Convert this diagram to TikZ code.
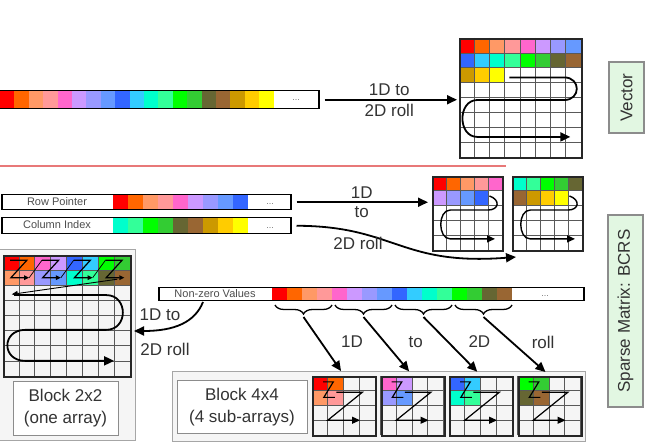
\documentclass[tikz,border=0pt]{standalone}
\usepackage{fontspec}
\setmainfont{Liberation Sans}
\usetikzlibrary{arrows.meta, decorations.pathreplacing}

\definecolor{col1}{HTML}{FF0000}
\definecolor{col2}{HTML}{FF6600}
\definecolor{col3}{HTML}{FF9966}
\definecolor{col4}{HTML}{FF9999}
\definecolor{col5}{HTML}{FF66CC}
\definecolor{col6}{HTML}{CC99FF}
\definecolor{col7}{HTML}{9999FF}
\definecolor{col8}{HTML}{6699FF}
\definecolor{col9}{HTML}{3366FF}
\definecolor{col10}{HTML}{33CCFF}
\definecolor{col11}{HTML}{00FFCC}
\definecolor{col12}{HTML}{33FF99}
\definecolor{col13}{HTML}{00FF00}
\definecolor{col14}{HTML}{33CC33}
\definecolor{col15}{HTML}{666633}
\definecolor{col16}{HTML}{996633}
\definecolor{col17}{HTML}{CC9900}
\definecolor{col18}{HTML}{FFCC00}
\definecolor{col19}{HTML}{FFFF00}
\definecolor{divider}{HTML}{E87878}
\definecolor{tagfill}{HTML}{E2F7E2}

\tikzset{
    strip/.style = {draw, line width = 1.5pt, inner sep = 0pt, anchor = north west},
    cellbox/.style = {draw = black!85, line width = 2pt, inner sep = 0pt, anchor = north west},
    gridline/.style = {black!65, line width = 0.6pt},
    roll/.style = {line width = 1.8pt, -{Triangle[length = 10pt, width = 9pt]}},
    curl/.style = {line width = 1.4pt, -{Triangle[length = 8pt, width = 7pt]}},
    zig/.style = {line width = 1.2pt},
    brace/.style = {decorate, decoration = {brace, mirror, amplitude = 9pt}, line width = 1.3pt},
    big/.style = {font = \fontsize{17}{22}\selectfont, text = black!80},
    small/.style = {font = \fontsize{11}{13}\selectfont, text = black!70},
    dots/.style = {font = \fontsize{9}{10}\selectfont, text = black!55},
    tag/.style = {draw = black!45, line width = 1.5pt, fill = tagfill, rotate = 90, inner sep = 0pt, big},
    panel/.style = {draw = black!35, line width = 1pt, fill = black!4},
    textbox/.style = {draw = black!45, line width = 1pt, fill = white, align = center, inner sep = 0pt, big},
}

% inner lines of a cell grid, in cell units
\newcommand{\gridlines}[2]{%
    \foreach \k in {0,...,#1} \draw[gridline] (\k, 0) -- (\k, #2);
    \foreach \k in {0,...,#2} \draw[gridline] (0, \k) -- (#1, \k);
}

\begin{document}
\begin{tikzpicture}[x = 1pt, y = -1pt]
    \useasboundingbox (0, 0) rectangle (664, 443);

    % vector
    \foreach \i in {1,...,19}
        \fill[fill = col\i] ({(\i-1)*14.4}, 90) rectangle ++(14.4, 18);
    \node[strip, minimum width = 320pt, minimum height = 18pt] (vec) at (-2, 90){};
    \node[dots] (vecdots) at (296, 100){...};

    \begin{scope}[shift = {(459, 38)}, x = 15.25pt, y = -14.875pt]
        \foreach \i in {1,...,19}
            \fill[fill = col\i] ({mod(\i-1, 8)}, {floor((\i-1)/8)}) rectangle ++(1, 1);
        \gridlines{8}{8}
        \draw[roll] (3.3, 2.65) -- (6.9, 2.65) .. controls (8, 2.65) and (8, 4.17) .. (6.9, 4.17)
            -- (1.2, 4.17) .. controls (-0.1, 4.17) and (-0.1, 6.65) .. (1.2, 6.65) -- (7.3, 6.65);
    \end{scope}
    \node[cellbox, minimum width = 122pt, minimum height = 119pt] (vgrid) at (459, 38){};

    \draw[roll, shorten <= 5pt, shorten >= 2pt] (vec.east) -- (vec.east -| vgrid.west)
        node[midway, above, big]{1D to} node[midway, below, big]{2D roll};
    \node[tag, minimum width = 71pt, minimum height = 35pt] (vtag) at (626.5, 97.5){Vector};

    \draw[divider, line width = 1.5pt] (0, 166) -- (506, 166);

    % row pointer and column index
    \foreach \i in {1,...,9}
        \fill[fill = col\i] ({113+(\i-1)*15}, 194) rectangle ++(15, 15);
    \node[strip, minimum width = 289pt, minimum height = 15pt] (rowptr) at (1, 194){};
    \node[small] (rowname) at (57, 201.5){Row Pointer};
    \node[dots] (rowdots) at (270, 204){...};

    \foreach \i in {11,...,19}
        \fill[fill = col\i] ({113+(\i-11)*15}, 217) rectangle ++(15, 16);
    \node[strip, minimum width = 289pt, minimum height = 16pt] (colidx) at (1, 217){};
    \node[small] (colname) at (57, 225){Column Index};
    \node[dots] (coldots) at (270, 228){...};

    \begin{scope}[shift = {(432, 176)}, x = 14pt, y = -14.8pt]
        \foreach \i in {1,...,9}
            \fill[fill = col\i] ({mod(\i-1, 5)}, {floor((\i-1)/5)}) rectangle ++(1, 1);
        \gridlines{5}{5}
        \draw[curl] (4.1, 1.35) .. controls (4.9, 1.6) and (4.8, 2.3) .. (4, 2.3)
            -- (1.3, 2.3) .. controls (0.4, 2.3) and (0.4, 4.25) .. (1.3, 4.25) -- (4.5, 4.25);
    \end{scope}
    \node[cellbox, minimum width = 70pt, minimum height = 74pt] (rgrid) at (432, 176){};

    \begin{scope}[shift = {(512, 176)}, x = 14pt, y = -14.8pt]
        \foreach \i in {11,...,19}
            \fill[fill = col\i] ({mod(\i-11, 5)}, {floor((\i-11)/5)}) rectangle ++(1, 1);
        \gridlines{5}{5}
        \draw[curl] (4.1, 1.35) .. controls (4.9, 1.6) and (4.8, 2.3) .. (4, 2.3)
            -- (1.3, 2.3) .. controls (0.4, 2.3) and (0.4, 4.25) .. (1.3, 4.25) -- (4.5, 4.25);
    \end{scope}
    \node[cellbox, minimum width = 70pt, minimum height = 74pt] (cgrid) at (512, 176){};

    \draw[roll, shorten <= 5pt, shorten >= 4pt] (rowptr.east) -- (rowptr.east -| rgrid.west)
        node[midway, above, big]{1D} node[midway, below, big]{to};
    \coordinate (cgridfoot) at (516, 257);
    \draw[roll, shorten <= 5pt] (colidx.east) .. controls (395, 226) and (400, 266) .. (cgridfoot);
    \node[big] (rolltext) at (358, 243){2D roll};

    \node[tag, minimum width = 192pt, minimum height = 35pt] (stag) at (625.5, 311){Sparse Matrix: BCRS};

    % block 2x2
    \draw[panel] (-2, 250) rectangle (135, 440);
    \begin{scope}[shift = {(3, 255)}, x = 15.875pt, y = -15.125pt]
        \foreach \i in {1,...,16}
            \fill[fill = col\i] ({2*floor((\i-1)/4)+mod(\i-1, 2)}, {floor(mod(\i-1, 4)/2)}) rectangle ++(1, 1);
        \gridlines{8}{8}
        \foreach \b in {0,...,3}
            \draw[zig, -{Triangle[length = 5pt, width = 4.5pt]}] ({2*\b+0.45}, 0.35) -- ({2*\b+1.5}, 0.35)
                -- ({2*\b+0.5}, 1.5) -- ({2*\b+1.65}, 1.5);
        \foreach \b in {0,1,2}
            \draw[line width = 0.7pt] ({2*\b+1.65}, 1.5) -- ({2*\b+2.45}, 0.35);
        \draw[line width = 0.9pt, -{Triangle[length = 6pt, width = 5pt]}] (7.2, 1.6) -- (0.55, 2.6);
        \draw[roll] (0.7, 2.65) -- (6.5, 2.65) .. controls (7.9, 2.65) and (7.9, 4.95) .. (6.5, 4.95)
            -- (1.4, 4.95) .. controls (-0.1, 4.95) and (-0.1, 7) .. (1.4, 7) -- (7, 7);
    \end{scope}
    \node[cellbox, minimum width = 127pt, minimum height = 121pt] (bgrid) at (3, 255){};
    \node[textbox, minimum width = 105pt, minimum height = 53pt] (blk2) at (65.5, 408.5){Block 2x2\\(one array)};

    % non-zero values
    \foreach \i in {1,...,16}
        \fill[fill = col\i] ({272+(\i-1)*15}, 287) rectangle ++(15, 13);
    \node[strip, minimum width = 425pt, minimum height = 13pt] (nzv) at (158, 287){};
    \node[small] (nzvname) at (215, 293.5){Non-zero Values};
    \node[dots] (nzvdots) at (545, 296){...};

    \coordinate (nzvfoot) at (203, 302);
    \coordinate (bgridside) at (134, 331);
    \draw[roll] (nzvfoot) .. controls (195, 322) and (175, 331) .. (bgridside);
    \node[big] (rollup) at (160, 315){1D to};
    \node[big] (rolldown) at (165, 349){2D roll};

    % block 4x4
    \draw[panel] (172, 372) rectangle (585, 441);
    \node[textbox, minimum width = 130pt, minimum height = 52pt] (blk4) at (242, 407){Block 4x4\\(4 sub-arrays)};

    \foreach \k/\w in {0/1D, 1/to, 2/2D, 3/roll} {
        \draw[brace] ({275+60*\k}, 305) -- ({332+60*\k}, 305);
        \coordinate (tip\k) at ({303.5+60*\k}, 317);
        \begin{scope}[shift = {({312+68.5*\k}, 376)}, x = 15.75pt, y = -14.75pt]
            \foreach \j in {0,...,3} {
                \pgfmathtruncatemacro\c{4*\k+\j+1}
                \fill[fill = col\c] ({mod(\j, 2)}, {floor(\j/2)}) rectangle ++(1, 1);
            }
            \gridlines{4}{4}
            \draw[zig] (0.7, 0.4) -- (1.35, 0.4) -- (0.75, 1.45) -- (1.45, 1.45);
            \draw[zig, -{Triangle[length = 8pt, width = 7pt]}] (1.55, 1.1) -- (3.2, 1.1) -- (1, 3) -- (3.05, 3);
        \end{scope}
        \node[cellbox, minimum width = 63pt, minimum height = 59pt] (sub\k) at ({312+68.5*\k}, 376){};
        \draw[roll, shorten >= 6pt] (tip\k) -- (sub\k.north);
        \node[big] (step\k) at ({352+63.7*\k}, 342){\w};
    }
\end{tikzpicture}
\end{document}
